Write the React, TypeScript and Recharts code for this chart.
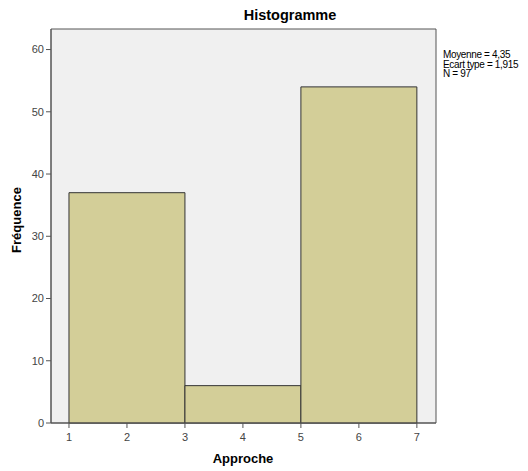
import { ComposedChart, Line, ReferenceArea, XAxis, YAxis } from "recharts";

const binStarts = [1, 3, 5];
const binEnds = [3, 5, 7];
const counts = [37, 6, 54];
const xTicks = [1, 2, 3, 4, 5, 6, 7];
const yTicks = [0, 10, 20, 30, 40, 50, 60];
const statLines = ["Moyenne = 4,35", "Ecart type = 1,915", "N = 97"];

const X_DOMAIN: [number, number] = [0.69, 7.33];
const Y_DOMAIN: [number, number] = [0, 63.3];

const data = binStarts.map((s, i) => ({ mid: (s + binEnds[i]) / 2, count: counts[i] }));

const font = "'Liberation Sans', Arial, sans-serif";
const axisColor = "#555";
const tickStyle = { fill: "#444", fontSize: 11, fontFamily: font };

export default function App() {
  return (
    <div style={{ position: "fixed", left: 0, top: 0, width: 528, height: 471, background: "#fff", fontFamily: font }}>
      <ComposedChart
        width={528}
        height={471}
        data={data}
        margin={{ top: 29, right: 92, bottom: 18, left: 21 }}
      >
        <XAxis
          dataKey="mid"
          type="number"
          domain={X_DOMAIN}
          ticks={xTicks}
          allowDataOverflow
          height={30}
          stroke={axisColor}
          tick={tickStyle}
          tickSize={5}
          tickMargin={5}
        />
        <YAxis
          type="number"
          domain={Y_DOMAIN}
          ticks={yTicks}
          allowDataOverflow
          width={30}
          stroke={axisColor}
          tick={tickStyle}
          tickSize={5}
          tickMargin={2}
        />
        <ReferenceArea
          x1={X_DOMAIN[0]}
          x2={X_DOMAIN[1]}
          y1={Y_DOMAIN[0]}
          y2={Y_DOMAIN[1]}
          fill="#f0f0f0"
          fillOpacity={1}
          stroke={axisColor}
          strokeWidth={1}
        />
        {counts.map((c, i) => (
          <ReferenceArea
            key={i}
            x1={binStarts[i]}
            x2={binEnds[i]}
            y1={0}
            y2={c}
            fill="#d3ce98"
            fillOpacity={1}
            stroke="#333"
            strokeWidth={1}
          />
        ))}
        <Line dataKey="count" stroke="none" dot={false} isAnimationActive={false} />
      </ComposedChart>
      {/* titles as plain text over the svg */}
      <div
        style={{
          position: "absolute",
          left: 190,
          width: 200,
          top: 7,
          textAlign: "center",
          fontWeight: "bold",
          fontSize: 14.5,
          color: "#000",
        }}
      >
        Histogramme
      </div>
      <div
        style={{
          position: "absolute",
          left: 143,
          width: 200,
          top: 451,
          textAlign: "center",
          fontWeight: "bold",
          fontSize: 13,
          color: "#000",
        }}
      >
        Approche
      </div>
      <div
        style={{
          position: "absolute",
          left: 17 - 60,
          top: 220 - 9,
          width: 120,
          height: 18,
          lineHeight: "18px",
          textAlign: "center",
          fontWeight: "bold",
          fontSize: 13,
          color: "#000",
          transform: "rotate(-90deg)",
        }}
      >
        Fréquence
      </div>
      <div
        style={{
          position: "absolute",
          left: 443,
          top: 50,
          fontSize: 10,
          lineHeight: "9.5px",
          letterSpacing: -0.35,
          color: "#000",
        }}
      >
        {statLines.map((t) => (
          <div key={t}>{t}</div>
        ))}
      </div>
    </div>
  );
}
